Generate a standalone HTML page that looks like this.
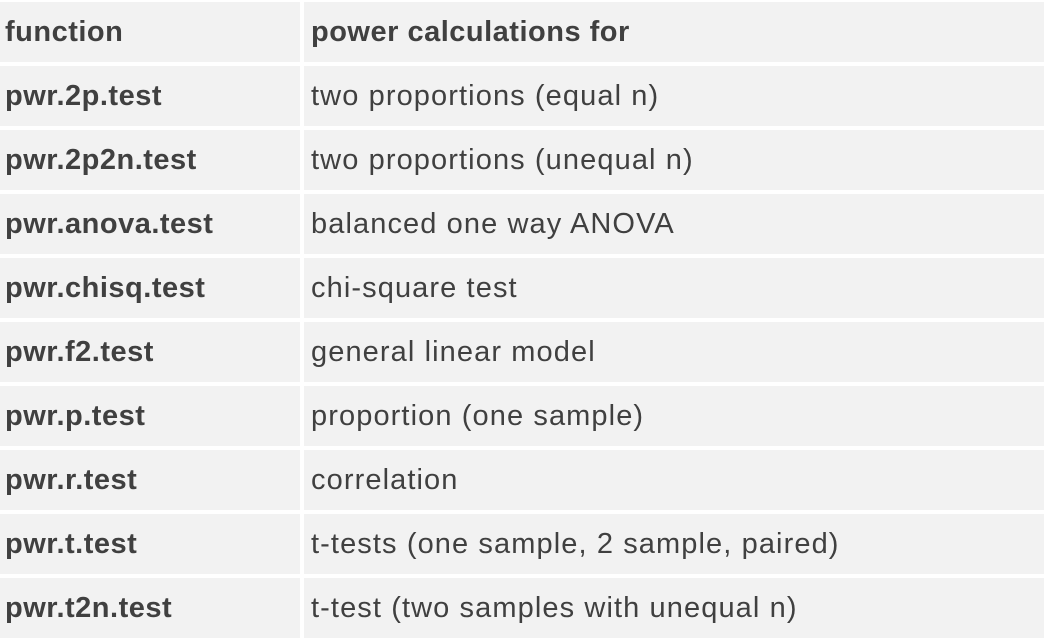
<!DOCTYPE html>
<html><head><meta charset="utf-8"><style>
html,body{margin:0;padding:0;background:#fff;width:1044px;height:636px;overflow:hidden}
.t{position:absolute;left:0;top:0;width:1044px}
.c{position:absolute;height:60px;background:#f2f2f2;color:#404040;font-family:"Liberation Sans",sans-serif;font-size:29px;line-height:60px;white-space:nowrap;box-sizing:border-box}
.l{left:0;width:300px;padding-left:5px;font-weight:bold;letter-spacing:0.5px}
.r{left:304px;width:740px;padding-left:7px;letter-spacing:1.1px}
.r.h{font-weight:bold;letter-spacing:0.5px}
</style></head><body>
<div class="t" id="t"></div>
<script>
const funcs=["function","pwr.2p.test","pwr.2p2n.test","pwr.anova.test","pwr.chisq.test","pwr.f2.test","pwr.p.test","pwr.r.test","pwr.t.test","pwr.t2n.test"];
const descs=["power calculations for","two proportions (equal n)","two proportions (unequal n)","balanced one way ANOVA","chi-square test","general linear model","proportion (one sample)","correlation","t-tests (one sample, 2 sample, paired)","t-test (two samples with unequal n)"];
const t=document.getElementById('t');
funcs.forEach((f,i)=>{
  const a=document.createElement('div');
  a.className='c l';a.style.top=(2+i*64)+'px';a.textContent=f;
  
  
  t.appendChild(a);
  const b=document.createElement('div');
  b.className=i===0?'c r h':'c r';b.style.top=(2+i*64)+'px';b.textContent=descs[i];
  
  
  t.appendChild(b);
});
</script>
</body></html>
